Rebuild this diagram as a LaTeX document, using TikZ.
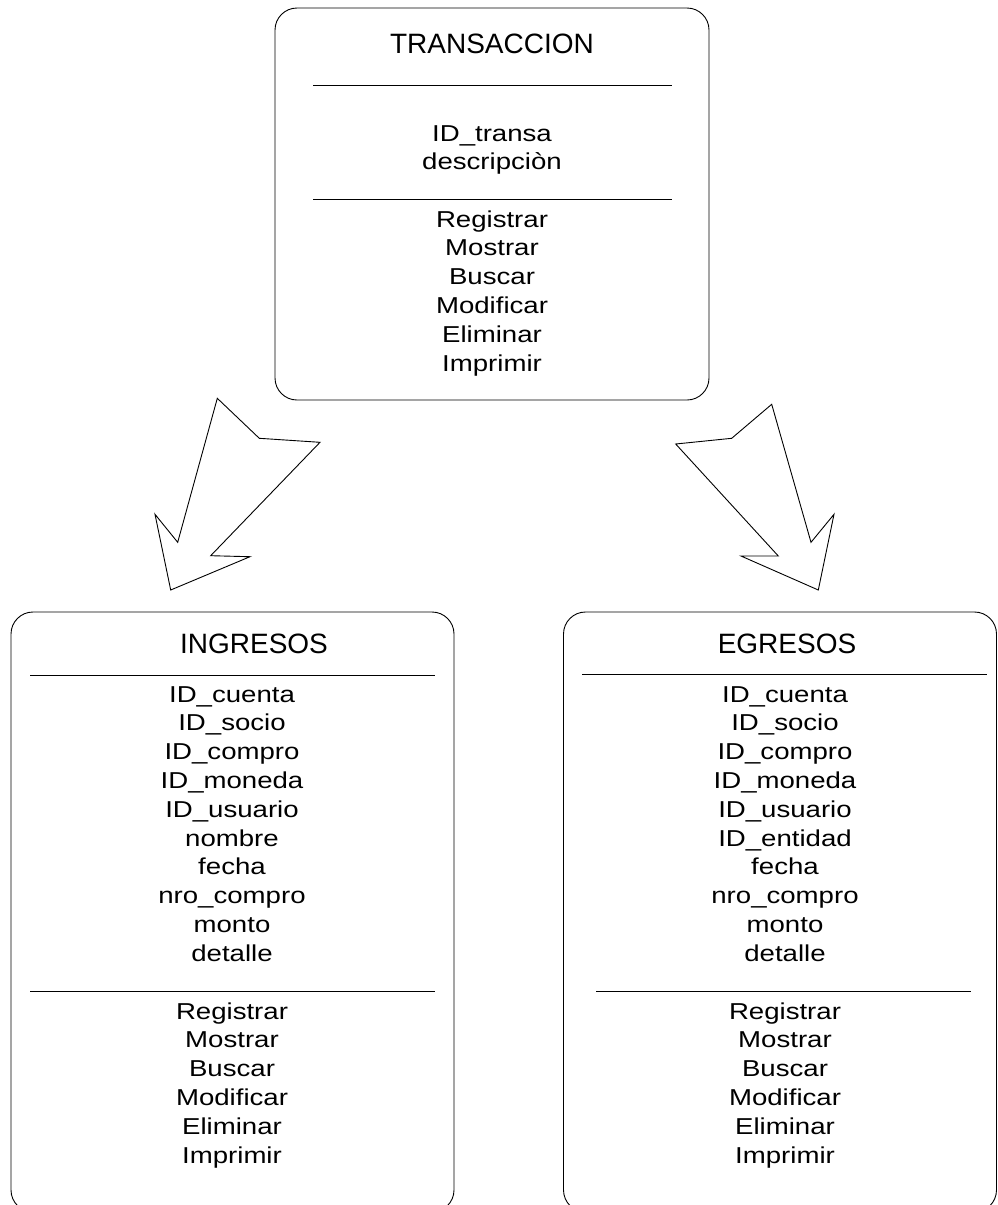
\documentclass[tikz,border=0pt]{standalone}
\usepackage{fontspec}
\setmainfont{Liberation Sans}
\newfontfamily\bodyfont[FakeStretch=1.2]{Liberation Sans}
\tikzset{
  card/.style={draw, line width=0.9pt, rounded corners=22pt, inner sep=0pt},
  rule/.style={line width=0.9pt},
  title/.style={font=\fontsize{28}{32}\selectfont, anchor=base, inner sep=0pt},
  entry/.style={font=\bodyfont\fontsize{23}{28}\selectfont, anchor=base, inner sep=0pt},
  bigarrow/.style={draw, line width=0.9pt, line join=miter},
}
\begin{document}
\begin{tikzpicture}[x=1pt,y=-1pt]
\useasboundingbox (0,0) rectangle (998,1205);
\clip (0,0) rectangle (998,1205);

% class boxes
\node[card, minimum width=434pt, minimum height=392pt] (trans) at (492,204) {};
\node[card, minimum width=443pt, minimum height=600pt] (ing) at (232.5,912) {};
\node[card, minimum width=433pt, minimum height=600pt] (egr) at (780,912) {};

% separators
\draw[rule] (313,85) -- (672,85);
\draw[rule] (313,199) -- (672,199);
\draw[rule] (30,675) -- (435,675);
\draw[rule] (30,991) -- (435,991);
\draw[rule] (582,674) -- (987,674);
\draw[rule] (596,991) -- (971,991);

% titles
\node[title] (transT) at (492,53) {TRANSACCION};
\node[title] (ingT) at (254,653) {INGRESOS};
\node[title] (egrT) at (787,653) {EGRESOS};

% TRANSACCION attributes and methods
\foreach [count=\i from 0] \t in {ID\_transa, descripciòn}
  \node[entry] (tA\i) at (492,141+\i*28.8) {\t};
\foreach [count=\i from 0] \t in {Registrar, Mostrar, Buscar, Modificar, Eliminar, Imprimir}
  \node[entry] (tM\i) at (492,227+\i*28.8) {\t};

% INGRESOS attributes and methods
\foreach [count=\i from 0] \t in {ID\_cuenta, ID\_socio, ID\_compro, ID\_moneda, ID\_usuario, nombre, fecha, nro\_compro, monto, detalle}
  \node[entry] (iA\i) at (232,702+\i*28.8) {\t};
\foreach [count=\i from 0] \t in {Registrar, Mostrar, Buscar, Modificar, Eliminar, Imprimir}
  \node[entry] (iM\i) at (232,1019+\i*28.8) {\t};

% EGRESOS attributes and methods
\foreach [count=\i from 0] \t in {ID\_cuenta, ID\_socio, ID\_compro, ID\_moneda, ID\_usuario, ID\_entidad, fecha, nro\_compro, monto, detalle}
  \node[entry] (eA\i) at (785,702+\i*28.8) {\t};
\foreach [count=\i from 0] \t in {Registrar, Mostrar, Buscar, Modificar, Eliminar, Imprimir}
  \node[entry] (eM\i) at (785,1019+\i*28.8) {\t};

% block arrows
\draw[bigarrow] (217.3,398.3) -- (259.3,438.3) -- (320,442.3) -- (210.7,555.7)
  -- (250,556.7) -- (170.7,590) -- (155,514.3) -- (177.7,542.3) -- cycle;
\draw[bigarrow] (771.7,404.3) -- (731.7,438.3) -- (675.7,444) -- (778.3,556)
  -- (741,556) -- (818.3,590) -- (834,514.3) -- (811,542.3) -- cycle;
\end{tikzpicture}
\end{document}
